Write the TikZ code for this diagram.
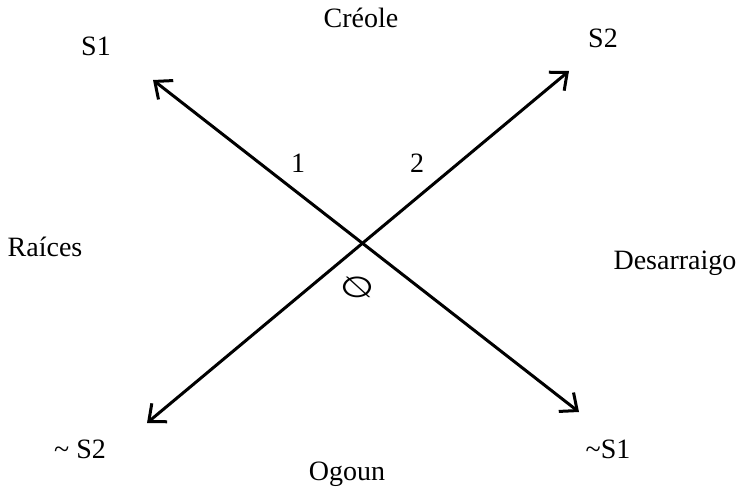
\documentclass[tikz,border=0pt]{standalone}
\usepackage{fontspec}
\setmainfont{Liberation Serif}
\newfontfamily\symfont{DejaVu Sans}
\usepackage{graphicx}
\usetikzlibrary{arrows.meta}

\begin{document}
\begin{tikzpicture}[x=1pt,y=-1pt,
  axis/.style={line width=3pt,{Straight Barb[length=14pt,width=24pt]}-{Straight Barb[length=14pt,width=24pt]}},
  lbl/.style={font=\fontsize{28}{34}\selectfont,inner sep=0pt}]
\useasboundingbox (0,0) rectangle (740,492);
% arrow tips
\coordinate (tipS1) at (153,80);
\coordinate (tipNotS1) at (579,412);
\coordinate (tipS2) at (569,71);
\coordinate (tipNotS2) at (147,423);
% S1 -- ~S1
\draw[axis] (tipS1) -- (tipNotS1);
% ~S2 -- S2
\draw[axis] (tipNotS2) -- (tipS2);
% corners
\node[lbl] (s1) at (96,46) {S1};
\node[lbl] (s2) at (603,38) {S2};
\node[lbl] (nots2) at (80,449) {\textasciitilde\ S2};
\node[lbl] (nots1) at (608,449) {\textasciitilde S1};
% sides
\node[lbl] (creole) at (361,18) {Créole};
\node[lbl] (raices) at (45,247) {Raíces};
\node[lbl] (desarraigo) at (675,263) {Desarraigo};
\node[lbl] (ogoun) at (347,474) {Ogoun};
% centre
\node[lbl] (one) at (298,163) {1};
\node[lbl] (two) at (417,163) {2};
\node[lbl,font=\symfont\fontsize{34}{40}\selectfont] (empty) at (357,287) {\scalebox{-1.15}[0.85]{∅}};
\end{tikzpicture}
\end{document}
